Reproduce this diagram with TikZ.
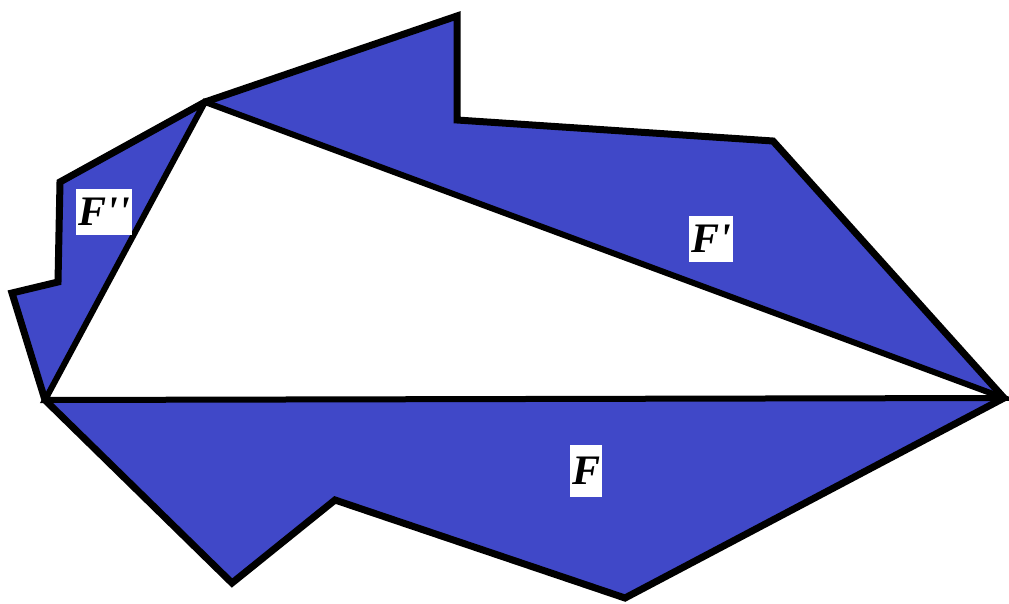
\documentclass[tikz,border=0pt]{standalone}
\usepackage{fontspec}
\newfontfamily\lblfont{Liberation Serif}
\usetikzlibrary{positioning}
\definecolor{regionblue}{RGB}{64,72,200}
\tikzset{
  region/.style={line width=7pt, line join=miter, fill=regionblue},
  lbl/.style={fill=white, inner xsep=2pt, inner ysep=8pt, minimum height=46pt,
    font=\lblfont\bfseries\itshape\fontsize{42}{42}\selectfont}
}

\begin{document}
\begin{tikzpicture}[x=1pt,y=-1pt]
  \useasboundingbox (0,0) rectangle (1009,604);
  % Corners of the triangle
  \coordinate (A) at (45,400);
  \coordinate (C) at (205,102);
  \coordinate (B) at (1004,398);
  % Outer polygon and inner triangle
  \draw[region] (A) -- (12,293) -- (58,282) -- (60,182) -- (C)
    -- (457,16) -- (457,120) -- (773,141) -- (B)
    -- (625,598) -- (335,500) -- (232,583) -- cycle;
  \draw[line width=6pt, fill=white] (A) -- (C) -- (B) -- cycle;
  % Labels
  \node[lbl] (Fsecond) at (104,212) {F''};
  \node[lbl] (Fprime) at (711,239) {F'};
  \node[lbl, minimum height=52pt] (Fmain) at (586,471) {F};
\end{tikzpicture}
\end{document}
